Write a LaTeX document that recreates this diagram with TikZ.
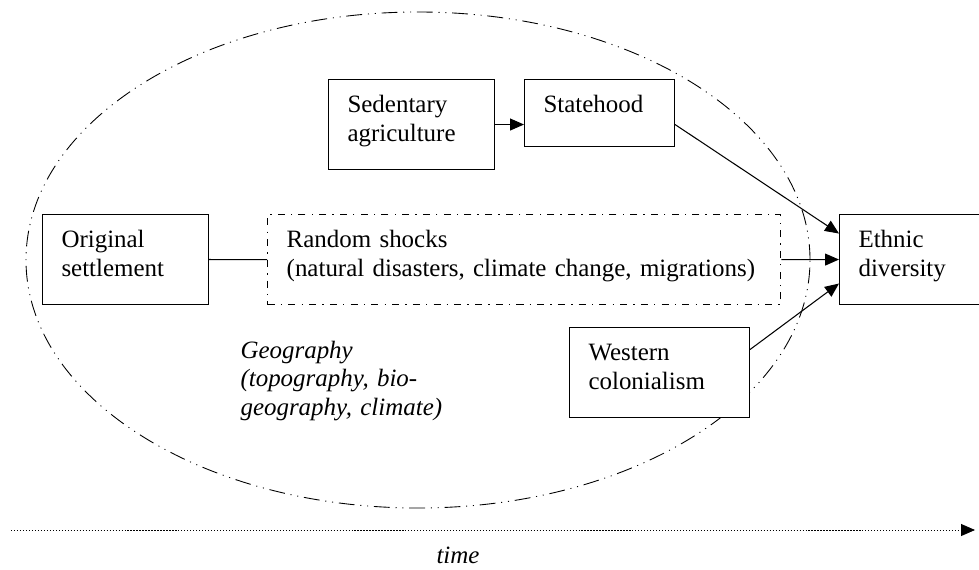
\documentclass[tikz,border=0pt]{standalone}
\usepackage{fontspec}
\setmainfont{Liberation Serif}
\usetikzlibrary{arrows.meta}

\begin{document}
\begin{tikzpicture}[x=0.02cm, y=0.02cm, semithick,
		font=\fontsize{14.2}{16.5}\selectfont,
		>={Triangle[length=0.28cm,width=0.24cm]}]
		\useasboundingbox (0,0) rectangle (979,569);
		\clip (0,0) rectangle (979,569);
		% geography
		\draw [line width=0.5pt, dash pattern=on 9pt off 3.3pt on 0.6pt off 3.3pt on 0.6pt off 3.3pt] (418,309) ellipse [x radius=392, y radius=248];
		\node (geo) at (240,211) [anchor=base west, align=left, text width=5cm, inner sep=0pt, font=\fontsize{14.2}{16.5}\selectfont\itshape] {Geography\\(topography, bio-\\geography, climate)};
		\begin{scope}[every node/.style={draw, fill=white, anchor=north west, align=left, inner xsep=0.38cm, inner ysep=0pt, text height=0.66cm, text depth=1.14cm}]
			\node (orig) at (42,355) [text width=2.56cm] {Original\\settlement};
			\node (sed) at (328,490) [text width=2.56cm] {Sedentary\\agriculture};
			\node (state) at (524,490) [text width=2.24cm, text depth=0.68cm] {Statehood};
			\node (shocks) at (267,355) [text width=9.5cm, line width=0.8pt, dash pattern=on 4pt off 3.5pt on 0.8pt off 3.5pt] {Random shocks\\(natural disasters, climate change, migrations)};
			\node (ethnic) at (839,355) [text width=2.64cm] {Ethnic\\diversity};
			\node (west) at (569,242) [text width=2.84cm] {Western\\colonialism};
		\end{scope}
		
		\draw [->] (sed.east) -- (sed.east -| state.west);
		\draw [->] (sed.east -| state.east) -- ([yshift=0.52cm]ethnic.west);
		\draw (orig.east) -- (shocks.west);
		\draw [->] (shocks.east) -- (ethnic.west);
		\draw [->] ([yshift=0.46cm]west.east) -- ([yshift=-0.48cm]ethnic.west);
		
		% time axis
		\coordinate (t0) at (11,39);
		\coordinate (t1) at (975,39);
		\draw [->, line width=0.5pt, dash pattern=on 0.7pt off 1pt] (t0) -- (t1);
		\node (time) at (458,6) [anchor=base, font=\fontsize{14.2}{16.5}\selectfont\itshape] {time};
	\end{tikzpicture}
\end{document}
